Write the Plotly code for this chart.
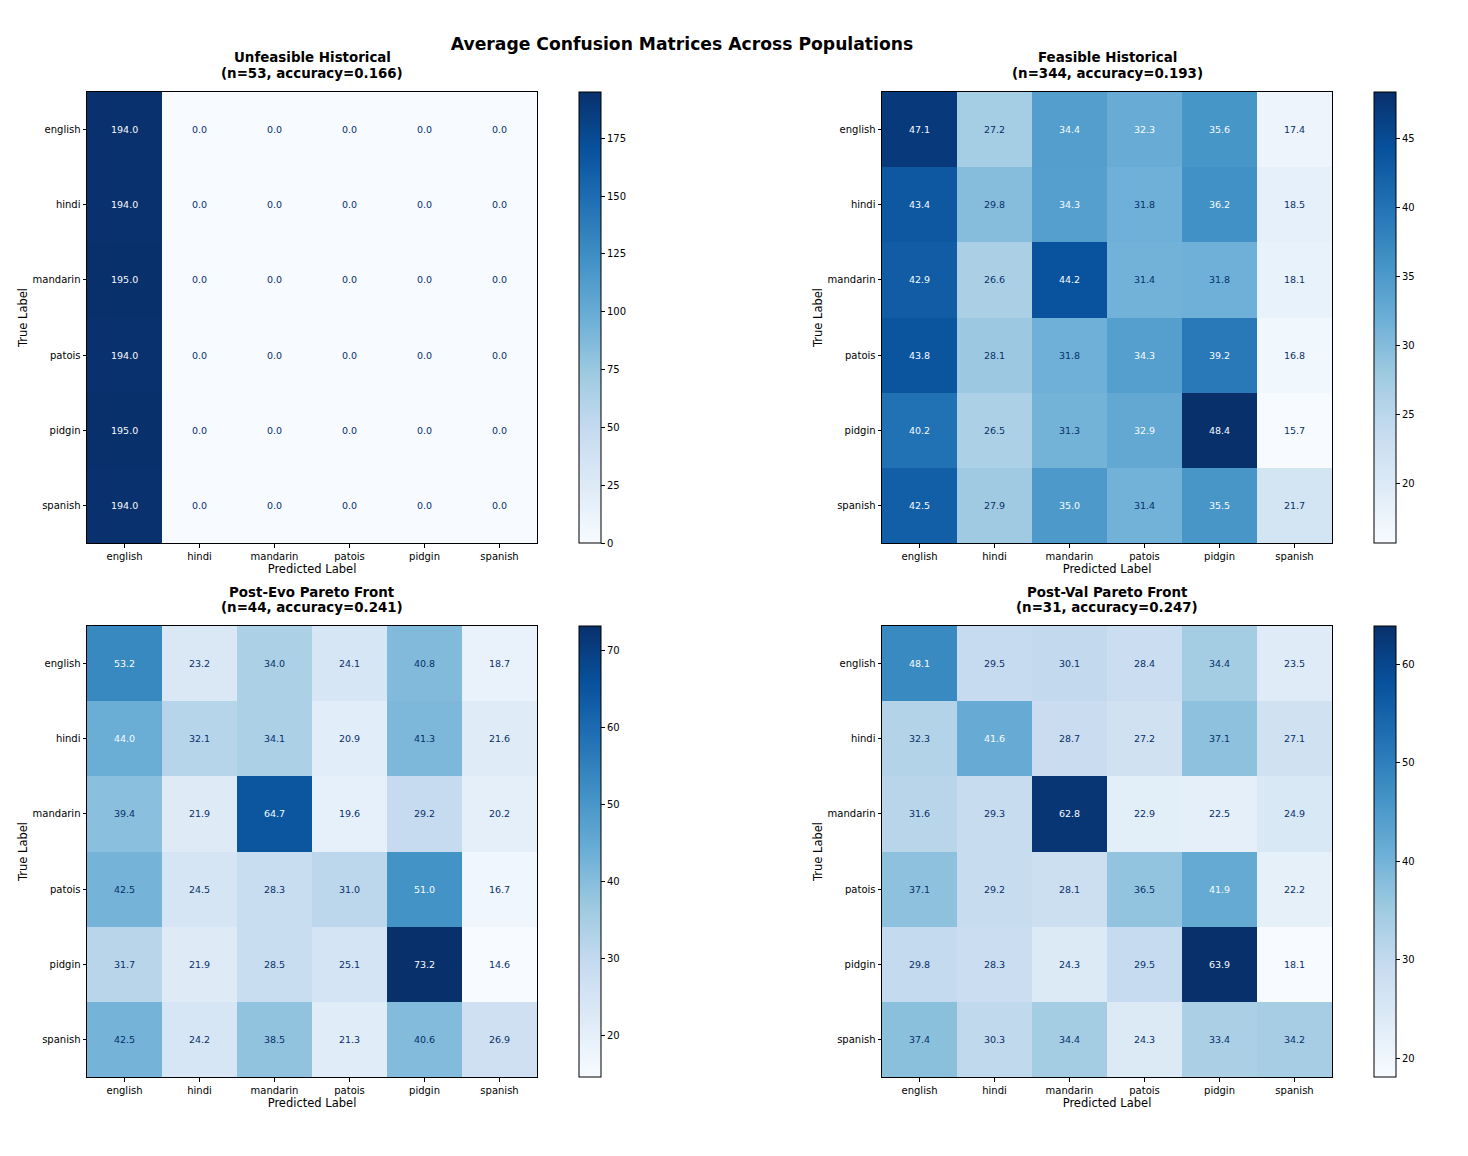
import plotly.graph_objects as go

W, H = 1468, 1156

labels = ["english", "hindi", "mandarin", "patois", "pidgin", "spanish"]

title_names = [
    "Unfeasible Historical",
    "Feasible Historical",
    "Post-Evo Pareto Front",
    "Post-Val Pareto Front",
]
title_stats = [
    "(n=53, accuracy=0.166)",
    "(n=344, accuracy=0.193)",
    "(n=44, accuracy=0.241)",
    "(n=31, accuracy=0.247)",
]

unfeasible = [
    [194.0, 0.0, 0.0, 0.0, 0.0, 0.0],
    [194.0, 0.0, 0.0, 0.0, 0.0, 0.0],
    [195.0, 0.0, 0.0, 0.0, 0.0, 0.0],
    [194.0, 0.0, 0.0, 0.0, 0.0, 0.0],
    [195.0, 0.0, 0.0, 0.0, 0.0, 0.0],
    [194.0, 0.0, 0.0, 0.0, 0.0, 0.0],
]
feasible = [
    [47.1, 27.2, 34.4, 32.3, 35.6, 17.4],
    [43.4, 29.8, 34.3, 31.8, 36.2, 18.5],
    [42.9, 26.6, 44.2, 31.4, 31.8, 18.1],
    [43.8, 28.1, 31.8, 34.3, 39.2, 16.8],
    [40.2, 26.5, 31.3, 32.9, 48.4, 15.7],
    [42.5, 27.9, 35.0, 31.4, 35.5, 21.7],
]
post_evo = [
    [53.2, 23.2, 34.0, 24.1, 40.8, 18.7],
    [44.0, 32.1, 34.1, 20.9, 41.3, 21.6],
    [39.4, 21.9, 64.7, 19.6, 29.2, 20.2],
    [42.5, 24.5, 28.3, 31.0, 51.0, 16.7],
    [31.7, 21.9, 28.5, 25.1, 73.2, 14.6],
    [42.5, 24.2, 38.5, 21.3, 40.6, 26.9],
]
post_val = [
    [48.1, 29.5, 30.1, 28.4, 34.4, 23.5],
    [32.3, 41.6, 28.7, 27.2, 37.1, 27.1],
    [31.6, 29.3, 62.8, 22.9, 22.5, 24.9],
    [37.1, 29.2, 28.1, 36.5, 41.9, 22.2],
    [29.8, 28.3, 24.3, 29.5, 63.9, 18.1],
    [37.4, 30.3, 34.4, 24.3, 33.4, 34.2],
]
matrices = [unfeasible, feasible, post_evo, post_val]
cbar_dticks = [25, 5, 10, 10]

FONT = "DejaVu Sans"
LIGHT = "#f7fbff"
DARK = "#08306b"

# pixel geometry of panels
cols_px = [(87, 537), (882, 1332)]
rows_px = [(92, 543), (626, 1077)]
cbar_left_px = [579, 1374]

fig = go.Figure()
annotations = []

for k, z in enumerate(matrices):
    r, c = divmod(k, 2)
    x0, x1 = cols_px[c]
    y0, y1 = rows_px[r]
    ax = "" if k == 0 else str(k + 1)
    xd = [x0 / W, x1 / W]
    yd = [1 - y1 / H, 1 - y0 / H]
    flat = [v for row in z for v in row]
    zmin, zmax = min(flat), max(flat)
    thresh = (zmin + zmax) / 2.0

    fig.add_trace(go.Heatmap(
        z=z, x=labels, y=labels,
        xaxis="x" + ax, yaxis="y" + ax,
        colorscale="Blues", zmin=zmin, zmax=zmax,
        hovertemplate="True: %{y}<br>Pred: %{x}<br>%{z:.1f}<extra></extra>",
        colorbar=dict(
            x=cbar_left_px[c] / W, xanchor="left", xref="paper",
            y=(yd[0] + yd[1]) / 2, yanchor="middle", yref="paper",
            len=y1 - y0, lenmode="pixels",
            thickness=22, thicknessmode="pixels",
            xpad=0, ypad=0,
            outlinewidth=1, outlinecolor="black",
            ticks="outside", ticklen=4, tickwidth=0.8, tickcolor="black",
            dtick=cbar_dticks[k], tick0=0,
            tickfont=dict(family=FONT, size=10, color="black"),
        ),
    ))

    fig.layout["xaxis" + ax] = dict(
        domain=xd, anchor="y" + ax, range=[-0.5, 5.5],
        showline=True, linecolor="black", linewidth=1, mirror=True,
        ticks="outside", ticklen=3.5, tickwidth=0.8, tickcolor="black",
        showgrid=False, zeroline=False,
        tickfont=dict(family=FONT, size=10, color="black"),
        title=dict(text="Predicted Label", standoff=4,
                   font=dict(family=FONT, size=11.5, color="black")),
    )
    fig.layout["yaxis" + ax] = dict(
        domain=yd, anchor="x" + ax, range=[5.5, -0.5],
        showline=True, linecolor="black", linewidth=1, mirror=True,
        ticks="outside", ticklen=3.5, tickwidth=0.8, tickcolor="black",
        showgrid=False, zeroline=False,
        tickfont=dict(family=FONT, size=10, color="black"),
        title=dict(text="True Label", standoff=2,
                   font=dict(family=FONT, size=11.5, color="black")),
    )

    for i, tl in enumerate(labels):
        for j, pl in enumerate(labels):
            v = z[i][j]
            annotations.append(dict(
                x=pl, y=tl, xref="x" + ax, yref="y" + ax,
                text=f"{v:.1f}", showarrow=False,
                font=dict(family=FONT, size=9.5,
                          color=LIGHT if v >= thresh else DARK),
            ))

    xc = (xd[0] + xd[1]) / 2
    annotations.append(dict(
        x=xc, y=1 - (y0 - 34) / H, xref="paper", yref="paper",
        xanchor="center", yanchor="middle",
        text=f"<b>{title_names[k]}</b>", showarrow=False,
        font=dict(family=FONT, size=13.4, color="black"),
    ))
    annotations.append(dict(
        x=xc, y=1 - (y0 - 19) / H, xref="paper", yref="paper",
        xanchor="center", yanchor="middle",
        text=f"<b>{title_stats[k]}</b>", showarrow=False,
        font=dict(family=FONT, size=13.4, color="black"),
    ))

fig.update_layout(
    width=W, height=H,
    margin=dict(l=0, r=0, t=0, b=0),
    paper_bgcolor="white", plot_bgcolor="white",
    title=dict(text="<b>Average Confusion Matrices Across Populations</b>",
               x=682 / W, xanchor="center", y=1 - 44 / H, yanchor="middle",
               font=dict(family=FONT, size=17.2, color="black")),
    annotations=annotations,
    showlegend=False,
)

fig.write_html("out.html")
